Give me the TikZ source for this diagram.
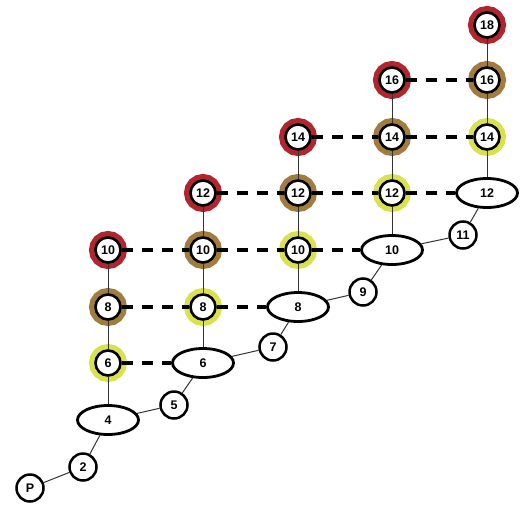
\documentclass[tikz,border=0pt]{standalone}
\usepackage{fontspec}
\setmainfont{Liberation Sans}
\usepackage{xcolor}
\usetikzlibrary{shapes.geometric}
\definecolor{haloRed}{HTML}{B0252E}
\definecolor{haloBrown}{HTML}{A27C3E}
\definecolor{haloYellow}{HTML}{D9E24E}

\begin{document}
\begin{tikzpicture}[
    x=1pt, y=-1pt,
    every node/.style={color=black, font=\bfseries\fontsize{12.5}{14}\selectfont},
    ring/.style={circle, draw=black, line width=2.6pt, fill=white,
                 minimum size=25pt, inner sep=0pt},
    redring/.style={ring, preaction={draw=haloRed, line width=13pt}},
    brownring/.style={ring, preaction={draw=haloBrown, line width=13pt}},
    yellowring/.style={ring, preaction={draw=haloYellow, line width=13pt}},
    oval/.style={ellipse, draw=black, line width=2.8pt, fill=white,
                 minimum width=61pt, minimum height=29pt, inner sep=0pt},
    stepnode/.style={circle, draw=black, line width=2.5pt, fill=white,
                     minimum size=27pt, inner sep=0pt},
    link/.style={color=black!80, line width=1pt},
    bond/.style={color=black, line width=4.2pt, dash pattern=on 11pt off 9pt}
]
\useasboundingbox (0,0) rectangle (521,506);

% --- Staircase of ovals and odd steps ---
\node[stepnode] (p)   at (30, 488)  {P};
\node[stepnode] (s2)  at (83, 467)  {2};
\node[oval]     (ov4) at (108, 420) {4};
\node[stepnode] (s5)  at (174, 405) {5};
\node[oval]     (ov6) at (203, 363) {6};
\node[stepnode] (s7)  at (273, 347) {7};
\node[oval]     (ov8) at (298, 307) {8};
\node[stepnode] (s9)  at (363, 292) {9};
\node[oval]     (ov10) at (392, 250) {10};
\node[stepnode] (s11) at (463, 235) {11};
\node[oval]     (ov12) at (487, 193) {12};

% --- Column A ---
\node[yellowring] (a6)  at (108, 363) {6};
\node[brownring]  (a8)  at (108, 307) {8};
\node[redring]    (a10) at (108, 250) {10};

% --- Column B ---
\node[yellowring] (b8)  at (203, 307) {8};
\node[brownring]  (b10) at (203, 250) {10};
\node[redring]    (b12) at (203, 193) {12};

% --- Column C ---
\node[yellowring] (c10) at (298, 250) {10};
\node[brownring]  (c12) at (298, 193) {12};
\node[redring]    (c14) at (298, 137) {14};

% --- Column D ---
\node[yellowring] (d12) at (392, 193) {12};
\node[brownring]  (d14) at (392, 137) {14};
\node[redring]    (d16) at (392, 80)  {16};

% --- Column E ---
\node[yellowring] (e14) at (487, 137) {14};
\node[brownring]  (e16) at (487, 80)  {16};
\node[redring]    (e18) at (487, 25)  {18};

% --- Diagonal chain ---
\draw[link] (p) -- (s2) -- (ov4) -- (s5) -- (ov6) -- (s7) -- (ov8)
    -- (s9) -- (ov10) -- (s11) -- (ov12);

% --- Verticals ---
\draw[link] (ov4) -- (a6) -- (a8) -- (a10);
\draw[link] (ov6) -- (b8) -- (b10) -- (b12);
\draw[link] (ov8) -- (c10) -- (c12) -- (c14);
\draw[link] (ov10) -- (d12) -- (d14) -- (d16);
\draw[link] (ov12) -- (e14) -- (e16) -- (e18);

% --- Dashed rows ---
\draw[bond] (a6) -- (ov6);
\draw[bond] (a8) -- (b8);
\draw[bond] (b8) -- (ov8);
\draw[bond] (a10) -- (b10);
\draw[bond] (b10) -- (c10);
\draw[bond] (c10) -- (ov10);
\draw[bond] (b12) -- (c12);
\draw[bond] (c12) -- (d12);
\draw[bond] (d12) -- (ov12);
\draw[bond] (c14) -- (d14);
\draw[bond] (d14) -- (e14);
\draw[bond] (d16) -- (e16);

\end{tikzpicture}
\end{document}
